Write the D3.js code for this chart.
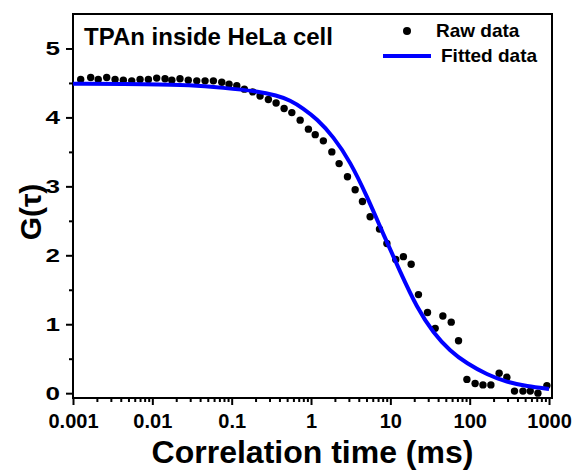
<!DOCTYPE html>
<meta charset="utf-8">
<style>
body { margin: 0; background: #fff; }
text { font-family: "Liberation Sans", Arial, sans-serif; font-weight: bold; fill: #000; }
</style>
<body>
<script src="https://cdnjs.cloudflare.com/ajax/libs/d3/7.8.5/d3.min.js"></script>
<script>
// raw correlation data (tau in ms, G)
var tauRaw = [0.00125, 0.00167, 0.00208, 0.00266, 0.00339, 0.00431, 0.0055, 0.007, 0.00892, 0.01135,
  0.01445, 0.0176, 0.0223, 0.0284, 0.0363, 0.0462, 0.0588, 0.075, 0.0927, 0.116,
  0.1445, 0.1845, 0.228, 0.29, 0.363, 0.458, 0.573, 0.73, 0.927, 1.13,
  1.43, 1.83, 2.26, 2.88, 3.6, 4.45, 5.56, 7.29, 9.04, 11.7,
  14.6, 18.3, 22.6, 29.4, 36.7, 45.9, 58.5, 72.3, 92.2, 117,
  147, 185, 235, 294, 367, 469, 580, 724, 940];
var gRaw = [4.55, 4.58, 4.55, 4.58, 4.55, 4.54, 4.53, 4.55, 4.55, 4.57,
  4.56, 4.54, 4.56, 4.54, 4.53, 4.53, 4.53, 4.51, 4.48, 4.46,
  4.41, 4.37, 4.31, 4.26, 4.21, 4.13, 4.07, 3.96, 3.83, 3.75,
  3.66, 3.50, 3.33, 3.14, 2.95, 2.78, 2.56, 2.38, 2.17, 1.94,
  1.98, 1.87, 1.43, 1.17, 0.94, 1.12, 1.03, 0.76, 0.20, 0.14,
  0.12, 0.12, 0.29, 0.23, 0.03, 0.03, 0.03, 0.00, 0.11];

// fitted curve
var tauFit = [0.001, 0.0094, 0.0297, 0.0786, 0.207, 0.371, 0.544, 0.80, 1.18, 1.92,
  3.11, 5.06, 8.19, 13.3, 21.6, 35.0, 56.8, 92.2, 165, 294, 526, 1000];
var gFit = [4.49, 4.48, 4.47, 4.43, 4.38, 4.32, 4.25, 4.13, 3.98, 3.72,
  3.36, 2.86, 2.30, 1.76, 1.24, 0.87, 0.61, 0.43, 0.27, 0.16, 0.10, 0.06];

var xTicks = [0.001, 0.01, 0.1, 1, 10, 100, 1000];
var xTickLabels = ["0.001", "0.01", "0.1", "1", "10", "100", "1000"];
var yTicks = [0, 1, 2, 3, 4, 5];

var width = 576, height = 473;
var mLeft = 73, mRight = 552, mTop = 14, mBottom = 398;

var svg = d3.select("body").append("svg")
  .attr("width", width)
  .attr("height", height);

var x = d3.scaleLog().domain([0.001, 1090]).range([mLeft, mRight]);
var y = d3.scaleLinear().domain([-0.07, 5.5]).range([mBottom, mTop]);

// minor ticks
var xMinor = [];
xTicks.forEach(function(t) {
  for (var k = 2; k <= 9; k++) { if (t * k < 1090) xMinor.push(t * k); }
});
var yMinor = d3.range(0.5, 5.5, 1);

var xAxis = svg.append("g")
  .attr("transform", "translate(0," + mBottom + ")")
  .call(d3.axisBottom(x).tickValues(xTicks).tickFormat(function(d, i) { return xTickLabels[i]; })
    .tickSizeInner(7).tickSizeOuter(0).tickPadding(9));
svg.append("g")
  .attr("transform", "translate(0," + mBottom + ")")
  .call(d3.axisBottom(x).tickValues(xMinor).tickFormat("").tickSizeInner(4).tickSizeOuter(0));

var yAxis = svg.append("g")
  .attr("transform", "translate(" + mLeft + ",0)")
  .call(d3.axisLeft(y).tickValues(yTicks).tickFormat(d3.format("d"))
    .tickSizeInner(7).tickSizeOuter(0).tickPadding(5));
svg.append("g")
  .attr("transform", "translate(" + mLeft + ",0)")
  .call(d3.axisLeft(y).tickValues(yMinor).tickFormat("").tickSizeInner(4).tickSizeOuter(0));

svg.selectAll(".domain").remove();
svg.selectAll(".tick line").attr("stroke", "#000").attr("stroke-width", 2);
xAxis.selectAll("text").attr("font-size", 20).attr("font-family", "Liberation Sans").attr("font-weight", "bold");
// y labels look horizontally stretched in the original
yAxis.selectAll(".tick text")
  .attr("font-size", 18).attr("font-family", "Liberation Sans").attr("font-weight", "bold")
  .attr("x", 0).attr("dy", null).attr("y", 6.5)
  .attr("transform", "translate(-13,0) scale(1.45,1)");

// frame
svg.append("rect")
  .attr("x", mLeft).attr("y", mTop)
  .attr("width", mRight - mLeft).attr("height", mBottom - mTop)
  .attr("fill", "none").attr("stroke", "#000").attr("stroke-width", 2);

var fitData = tauFit.map(function(t, i) { return [t, gFit[i]]; });
var line = d3.line()
  .x(function(d) { return x(d[0]); })
  .y(function(d) { return y(d[1]); })
  .curve(d3.curveBasis);

svg.append("g").selectAll("circle")
  .data(tauRaw)
  .enter().append("circle")
  .attr("cx", function(d) { return x(d); })
  .attr("cy", function(d, i) { return y(gRaw[i]); })
  .attr("r", 3.7)
  .attr("fill", "#000");

svg.append("path")
  .datum(fitData)
  .attr("d", line)
  .attr("fill", "none")
  .attr("stroke", "#0000ff")
  .attr("stroke-width", 4);

// annotation + legend
svg.append("text").attr("x", 84).attr("y", 45).attr("font-size", 24).text("TPAn inside HeLa cell");

svg.append("circle").attr("cx", 407).attr("cy", 31).attr("r", 4).attr("fill", "#000");
svg.append("text").attr("x", 436).attr("y", 37).attr("font-size", 19).text("Raw data");
svg.append("line").attr("x1", 383).attr("x2", 431).attr("y1", 56).attr("y2", 56)
  .attr("stroke", "#0000ff").attr("stroke-width", 4);
svg.append("text").attr("x", 441).attr("y", 62).attr("font-size", 19).text("Fitted data");

// axis titles
svg.append("text")
  .attr("x", (mLeft + mRight) / 2).attr("y", 463)
  .attr("text-anchor", "middle").attr("font-size", 32)
  .text("Correlation time (ms)");
svg.append("text")
  .attr("transform", "translate(41,212) rotate(-90)")
  .attr("text-anchor", "middle").attr("font-size", 30)
  .text("G(τ)");
</script>
</body>
